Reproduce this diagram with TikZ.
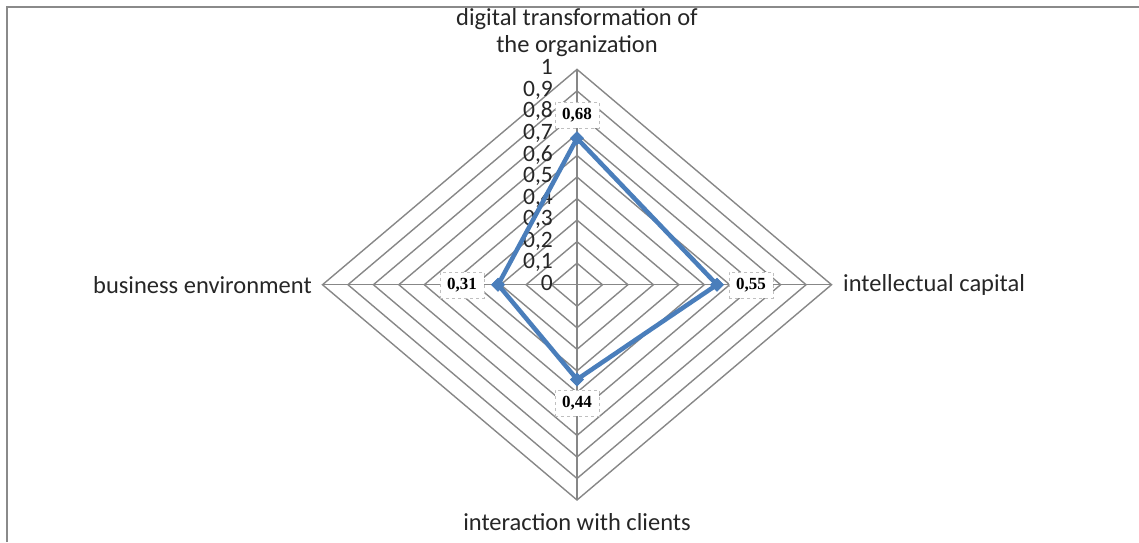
\documentclass[tikz,border=0pt]{standalone}
\usepackage{fontspec}
\setmainfont{Carlito}
\newfontfamily\lblfont{Liberation Serif}
\usetikzlibrary{shapes.geometric}
\definecolor{gridgray}{HTML}{878787}
\definecolor{framegray}{HTML}{8A8A8A}
\definecolor{serblue}{HTML}{4A7EBB}
\begin{document}
\begin{tikzpicture}[x=1pt,y=-1pt,
  ringline/.style={draw=gridgray, line width=1.4pt},
  spoke/.style={draw=gridgray, line width=1.4pt},
  axislbl/.style={font=\fontsize{24.5}{27}\selectfont, text=black!85, inner sep=0pt},
  ticklbl/.style={font=\fontsize{23.5}{24}\selectfont, text=black!85, anchor=east, inner sep=0pt, text height=14pt, text depth=3pt},
  marker/.style={diamond, fill=serblue, minimum size=14pt, inner sep=0pt},
  serline/.style={draw=serblue, line width=4.5pt, line join=round},
  datalbl/.style={draw=black!25, dashed, fill=white, font=\lblfont\bfseries\fontsize{17}{17}\selectfont, inner sep=3pt, minimum height=26pt, minimum width=44pt},
  frameline/.style={draw=framegray, line width=2pt}
]
\useasboundingbox (0,0) rectangle (1139,542);
\def\cx{577}\def\cy{284.7}\def\sx{25.45}\def\sy{21.53}
% frame
\coordinate (fbl) at (7,542);
\coordinate (ftl) at (7,6.5);
\coordinate (ftr) at (1139,6.5);
\draw[frameline] (fbl) -- (ftl) -- (ftr);
% rings
\foreach \k in {1,...,10}{
  \draw[ringline] ({\cx+\k*\sx},\cy) -- (\cx,{\cy-\k*\sy}) -- ({\cx-\k*\sx},\cy) -- (\cx,{\cy+\k*\sy}) -- cycle;
}
% vertices and spokes
\coordinate (c) at (\cx,\cy);
\coordinate (vt) at (\cx,{\cy-10*\sy});
\coordinate (vr) at ({\cx+10*\sx},\cy);
\coordinate (vb) at (\cx,{\cy+10*\sy});
\coordinate (vl) at ({\cx-10*\sx},\cy);
\draw[spoke] (c) -- (vt);
\draw[spoke] (c) -- (vr);
\draw[spoke] (c) -- (vb);
\draw[spoke] (c) -- (vl);
% tick labels
\foreach \k/\t in {0/0,1/{0,1},2/{0,2},3/{0,3},4/{0,4},5/{0,5},6/{0,6},7/{0,7},8/{0,8},9/{0,9},10/1}{
  \node[ticklbl] (t\k) at (553,{\cy-\k*\sy}) {\t};
}
% axis labels
\node[axislbl, align=center] (at) at (\cx,33) {digital transformation of\\the organization};
\node[axislbl, anchor=east] (al) at (312,\cy) {business environment};
\node[axislbl, anchor=west] (ar) at (843,\cy) {intellectual capital};
\node[axislbl] (ab) at (\cx,522) {interaction with clients};
% data series
\node[marker] (dt) at (\cx,{\cy-6.8*\sy}) {};
\node[marker] (dr) at ({\cx+5.5*\sx},\cy) {};
\node[marker] (db) at (\cx,{\cy+4.4*\sy}) {};
\node[marker] (dl) at ({\cx-3.1*\sx},\cy) {};
\draw[serline] (dt.center) -- (dr.center) -- (db.center) -- (dl.center) -- cycle;
\node[marker] at (dt) {};
\node[marker] at (dr) {};
\node[marker] at (db) {};
\node[marker] at (dl) {};
% data labels
\node[datalbl] (lt) at (\cx,115) {0,68};
\node[datalbl] (lr) at (751,\cy) {0,55};
\node[datalbl] (lb) at (\cx,403) {0,44};
\node[datalbl] (ll) at (462,\cy) {0,31};
\end{tikzpicture}
\end{document}
